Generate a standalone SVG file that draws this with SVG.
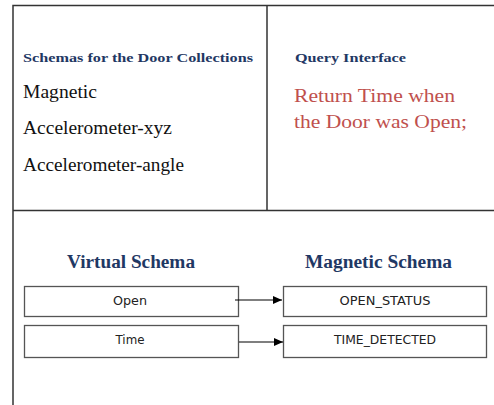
<svg xmlns="http://www.w3.org/2000/svg" width="494" height="405" viewBox="0 0 494 405">
<defs>
<marker id="arr" markerWidth="9" markerHeight="8" refX="9" refY="4" orient="auto" markerUnits="userSpaceOnUse">
<path d="M0,0 L9,4 L0,8 Z" fill="#000"/>
</marker>
<style>
.frame{stroke:#333;stroke-width:1.5;fill:none}
.box{fill:#fff;stroke:#555;stroke-width:1.3}
.hd{font-family:"Liberation Serif","Times New Roman",serif;font-weight:bold;fill:#1F3864}
.item{font-family:"Liberation Serif","Times New Roman",serif;font-size:18px;fill:#111}
.q{font-family:"Liberation Serif","Times New Roman",serif;font-size:19px;fill:#C0504D}
.lbl{font-family:"DejaVu Sans","Open Sans",sans-serif;font-size:12px;fill:#222;text-anchor:middle}
.con{stroke:#000;stroke-width:1.2;fill:none}
</style>
</defs>
<rect width="494" height="405" fill="#fff"/>
<g id="frame">
<path class="frame" d="M13,405 V5.5 H494 M267,5.5 V210.5 M13,210.5 H494"/>
</g>
<g id="collections">
<text class="hd" x="23" y="62" font-size="13" textLength="230" lengthAdjust="spacingAndGlyphs">Schemas for the Door Collections</text>
<text class="item" x="23" y="98" textLength="74" lengthAdjust="spacingAndGlyphs">Magnetic</text>
<text class="item" x="23" y="134" textLength="149" lengthAdjust="spacingAndGlyphs">Accelerometer-xyz</text>
<text class="item" x="23" y="171" textLength="161" lengthAdjust="spacingAndGlyphs">Accelerometer-angle</text>
</g>
<g id="query">
<text class="hd" x="295" y="62" font-size="13" textLength="111" lengthAdjust="spacingAndGlyphs">Query Interface</text>
<text class="q" x="294" y="102" textLength="161" lengthAdjust="spacingAndGlyphs">Return Time when</text>
<text class="q" x="294" y="128" textLength="173" lengthAdjust="spacingAndGlyphs">the Door was Open;</text>
</g>
<g id="virtual-title">
<text class="hd" x="67" y="268" font-size="18" textLength="128" lengthAdjust="spacingAndGlyphs">Virtual Schema</text>
</g>
<g id="magnetic-title">
<text class="hd" x="305" y="268" font-size="18" textLength="147" lengthAdjust="spacingAndGlyphs">Magnetic Schema</text>
</g>
<g id="v-open">
<rect class="box" x="24.5" y="286.5" width="214" height="30"/>
<text class="lbl" x="130" y="305" textLength="34" lengthAdjust="spacingAndGlyphs">Open</text>
</g>
<g id="v-time">
<rect class="box" x="24.5" y="325.5" width="214" height="32"/>
<text class="lbl" x="130" y="344" textLength="29" lengthAdjust="spacingAndGlyphs">Time</text>
</g>
<g id="m-open">
<rect class="box" x="283.5" y="286.5" width="203" height="30"/>
<text class="lbl" x="385" y="305" textLength="91" lengthAdjust="spacingAndGlyphs">OPEN_STATUS</text>
</g>
<g id="m-time">
<rect class="box" x="283.5" y="325.5" width="203" height="32"/>
<text class="lbl" x="385" y="344" textLength="102" lengthAdjust="spacingAndGlyphs">TIME_DETECTED</text>
</g>
<g id="connectors">
<line class="con" x1="235" y1="300" x2="282" y2="300" marker-end="url(#arr)"/>
<line class="con" x1="239" y1="342" x2="283" y2="342" marker-end="url(#arr)"/>
</g>
</svg>
